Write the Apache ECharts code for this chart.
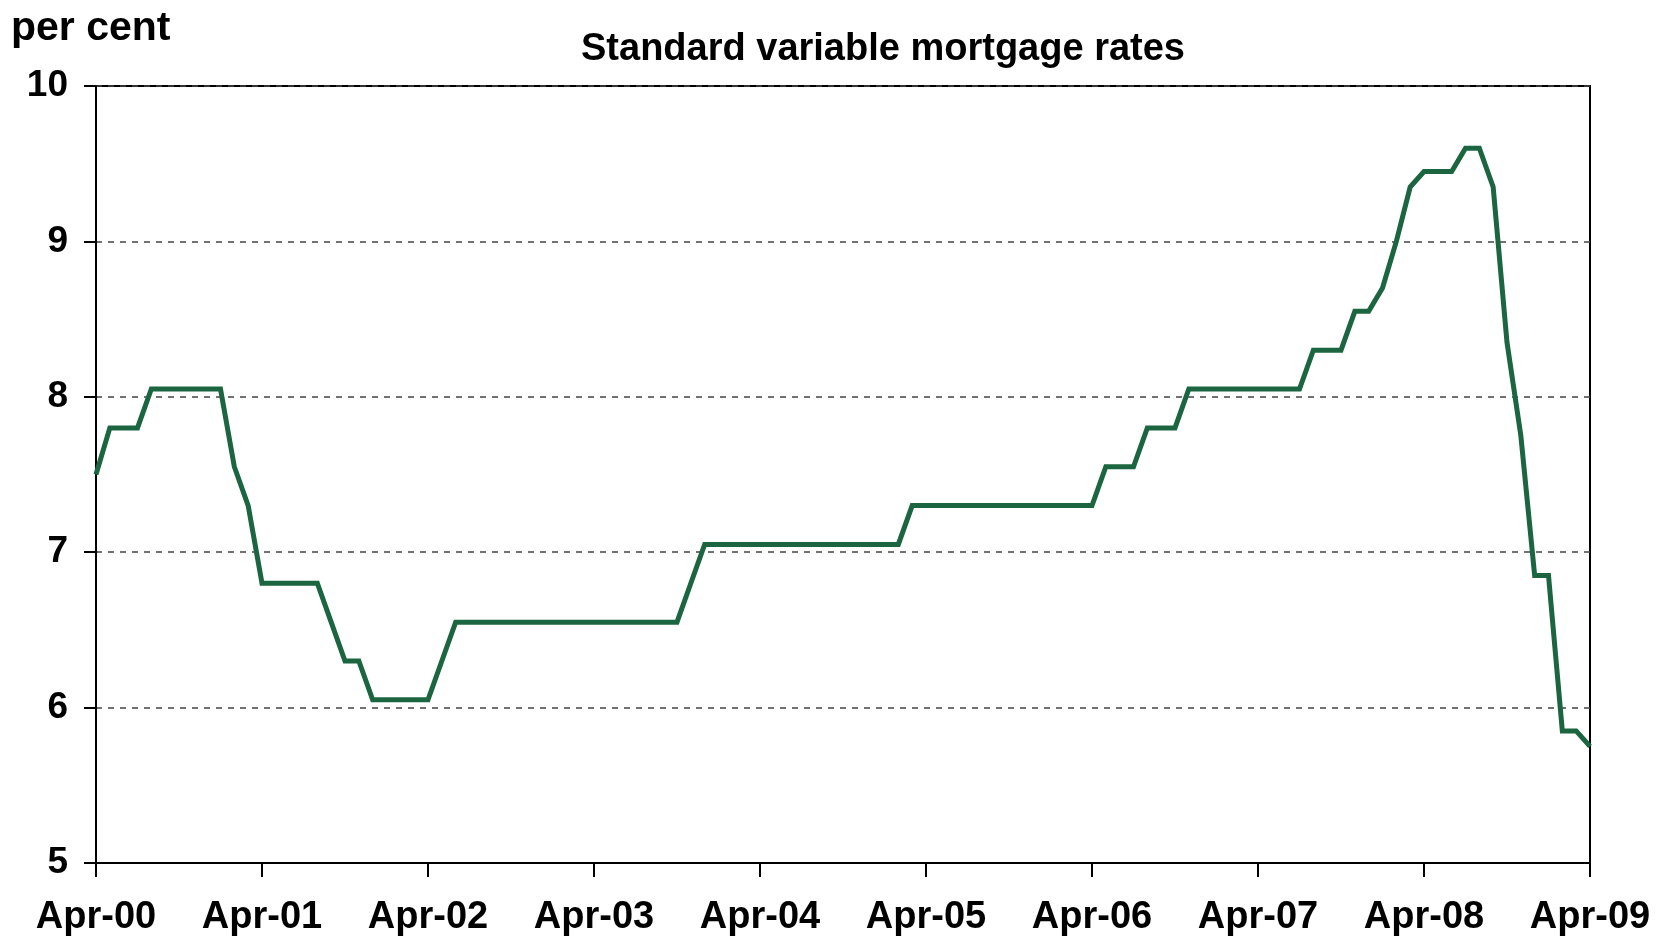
<!DOCTYPE html>
<html>
<head>
    <meta charset="utf-8">
    <title>Standard variable mortgage rates</title>
    <script src="https://cdn.jsdelivr.net/npm/echarts@6/dist/echarts.min.js"></script>
    <style>
        html, body { margin: 0; padding: 0; background: #fff; }
    </style>
</head>
<body>
    <div id="main" style="width: 1656px;height:937px;"></div>
    <script type="text/javascript">
        // month labels, Apr-00 .. Apr-09
        var monthNames = ['Jan', 'Feb', 'Mar', 'Apr', 'May', 'Jun', 'Jul', 'Aug', 'Sep', 'Oct', 'Nov', 'Dec'];
        var years = ['00', '01', '02', '03', '04', '05', '06', '07', '08', '09'];
        var months = [];
        for (var i = 0; i < 109; i++) {
            var m = (3 + i) % 12;
            var y = Math.floor((3 + i) / 12);
            months.push(monthNames[m] + '-' + years[y]);
        }

        // standard variable rate, per cent, monthly
        var rates = [
            7.50, 7.80, 7.80, 7.80, 8.05, 8.05, 8.05, 8.05, 8.05, 8.05,
            7.55, 7.30, 6.80, 6.80, 6.80, 6.80, 6.80, 6.55, 6.30, 6.30,
            6.05, 6.05, 6.05, 6.05, 6.05, 6.30, 6.55, 6.55, 6.55, 6.55,
            6.55, 6.55, 6.55, 6.55, 6.55, 6.55, 6.55, 6.55, 6.55, 6.55,
            6.55, 6.55, 6.55, 6.80, 7.05, 7.05, 7.05, 7.05, 7.05, 7.05,
            7.05, 7.05, 7.05, 7.05, 7.05, 7.05, 7.05, 7.05, 7.05, 7.30,
            7.30, 7.30, 7.30, 7.30, 7.30, 7.30, 7.30, 7.30, 7.30, 7.30,
            7.30, 7.30, 7.30, 7.55, 7.55, 7.55, 7.80, 7.80, 7.80, 8.05,
            8.05, 8.05, 8.05, 8.05, 8.05, 8.05, 8.05, 8.05, 8.30, 8.30,
            8.30, 8.55, 8.55, 8.70, 9.00, 9.35, 9.45, 9.45, 9.45, 9.60,
            9.60, 9.35, 8.35, 7.75, 6.85, 6.85, 5.85, 5.85, 5.75
        ];

        var yTicks = [5, 6, 7, 8, 9, 10];

        var myChart = echarts.init(document.getElementById('main'));

        var font = '"Liberation Sans", Arial, sans-serif';

        var option = {
            backgroundColor: '#ffffff',
            animation: false,
            title: [
                {
                    text: 'per cent',
                    left: 6,
                    top: 3,
                    textStyle: { fontFamily: font, fontWeight: 'bold', fontSize: 41, color: '#000' }
                },
                {
                    text: 'Standard variable mortgage rates',
                    left: 576,
                    top: 26,
                    textStyle: { fontFamily: font, fontWeight: 'bold', fontSize: 38, color: '#000' }
                }
            ],
            grid: {
                left: 96,
                right: 66,
                top: 86,
                bottom: 73,
                show: true,
                borderColor: '#000',
                borderWidth: 2
            },
            xAxis: {
                type: 'category',
                data: months,
                boundaryGap: false,
                axisLine: { lineStyle: { color: '#000', width: 2 } },
                axisTick: { interval: 11, length: 14, lineStyle: { color: '#000', width: 2 } },
                axisLabel: {
                    interval: 11,
                    margin: 36,
                    color: '#000',
                    fontFamily: font,
                    fontWeight: 'bold',
                    fontSize: 38
                },
                splitLine: { show: false }
            },
            yAxis: {
                type: 'value',
                min: yTicks[0],
                max: yTicks[yTicks.length - 1],
                interval: 1,
                axisLine: { show: true, lineStyle: { color: '#000', width: 2 } },
                axisTick: { show: true, length: 12, lineStyle: { color: '#000', width: 2 } },
                axisLabel: {
                    margin: 28,
                    color: '#000',
                    fontFamily: font,
                    fontWeight: 'bold',
                    fontSize: 37
                },
                splitLine: {
                    show: true,
                    lineStyle: { color: '#444', width: 1.5, type: [6, 6] }
                }
            },
            series: [
                {
                    type: 'line',
                    data: rates,
                    showSymbol: false,
                    symbol: 'none',
                    lineStyle: { color: '#1b6640', width: 5, join: 'miter' },
                    z: 3
                }
            ]
        };

        myChart.setOption(option);
    </script>
</body>
</html>
